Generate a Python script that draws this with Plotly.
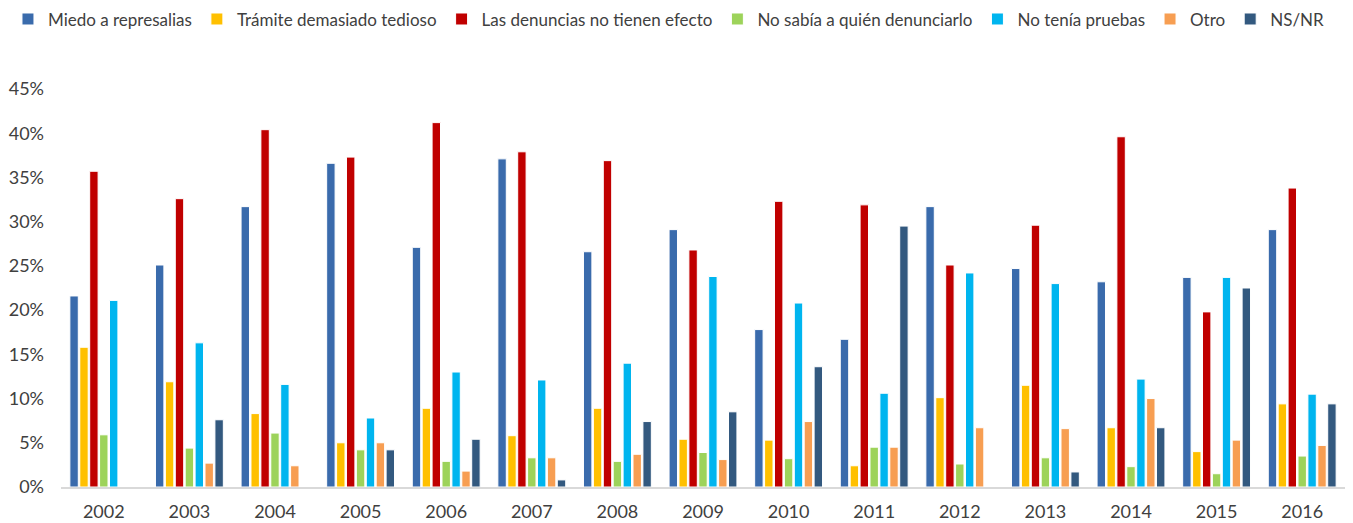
import plotly.graph_objects as go

years = [str(y) for y in range(2002, 2017)]

series_names = [
    "Miedo a represalias",
    "Trámite demasiado tedioso",
    "Las denuncias no tienen efecto",
    "No sabía a quién denunciarlo",
    "No tenía pruebas",
    "Otro",
    "NS/NR",
]

miedo = [21.6, 25.1, 31.7, 36.6, 27.1, 37.1, 26.6, 29.1, 17.8, 16.7, 31.7, 24.7, 23.2, 23.7, 29.1]
tramite = [15.8, 11.9, 8.3, 5.0, 8.9, 5.8, 8.9, 5.4, 5.3, 2.4, 10.1, 11.5, 6.7, 4.0, 9.4]
sin_efecto = [35.7, 32.6, 40.4, 37.3, 41.2, 37.9, 36.9, 26.8, 32.3, 31.9, 25.1, 29.6, 39.6, 19.8, 33.8]
no_sabia = [5.9, 4.4, 6.1, 4.2, 2.9, 3.3, 2.9, 3.9, 3.2, 4.5, 2.6, 3.3, 2.3, 1.5, 3.5]
sin_pruebas = [21.1, 16.3, 11.6, 7.8, 13.0, 12.1, 14.0, 23.8, 20.8, 10.6, 24.2, 23.0, 12.2, 23.7, 10.5]
otro = [0.0, 2.7, 2.4, 5.0, 1.8, 3.3, 3.7, 3.1, 7.4, 4.5, 6.7, 6.6, 10.0, 5.3, 4.7]
nsnr = [0.0, 7.6, 0.0, 4.2, 5.4, 0.8, 7.4, 8.5, 13.6, 29.5, 0.0, 1.7, 6.7, 22.5, 9.4]

y_ticks = [0, 5, 10, 15, 20, 25, 30, 35, 40, 45]
y_tick_labels = [f"{v}%" for v in y_ticks]

colors = ["#3A6BAC", "#FFC000", "#C00000", "#9DD35A", "#00B5EF", "#F79E52", "#33597F"]
all_values = [miedo, tramite, sin_efecto, no_sabia, sin_pruebas, otro, nsnr]

fig = go.Figure()
for name, vals, col in zip(series_names, all_values, colors):
    fig.add_trace(go.Bar(
        x=years, y=vals, name=name,
        marker=dict(color=col, line=dict(color="white", width=1)),
    ))

fig.update_layout(
    width=1345, height=515,
    margin=dict(l=53, r=8, t=81, b=36, autoexpand=False),
    paper_bgcolor="white", plot_bgcolor="white",
    barmode="group", bargap=0.19, bargroupgap=0.15,
    font=dict(family="Lato, Open Sans, sans-serif", size=18, color="#404040"),
    legend=dict(
        orientation="h", x=-0.0413, xanchor="left",
        y=1.22, yanchor="top",
        font=dict(size=17, color="#404040"),
        itemwidth=30, tracegroupgap=0,
    ),
    xaxis=dict(
        showline=True, linecolor="#D9D9D9", linewidth=2,
        ticks="", showgrid=False, tickfont=dict(size=18, color="#404040"),
        ticklabelstandoff=7,
    ),
    yaxis=dict(
        range=[0, 45], tickvals=y_ticks, ticktext=y_tick_labels,
        showgrid=False, zeroline=False, showline=False,
        tickfont=dict(size=18, color="#404040"), ticklabelstandoff=16,
    ),
)

fig.write_html("out.html")
